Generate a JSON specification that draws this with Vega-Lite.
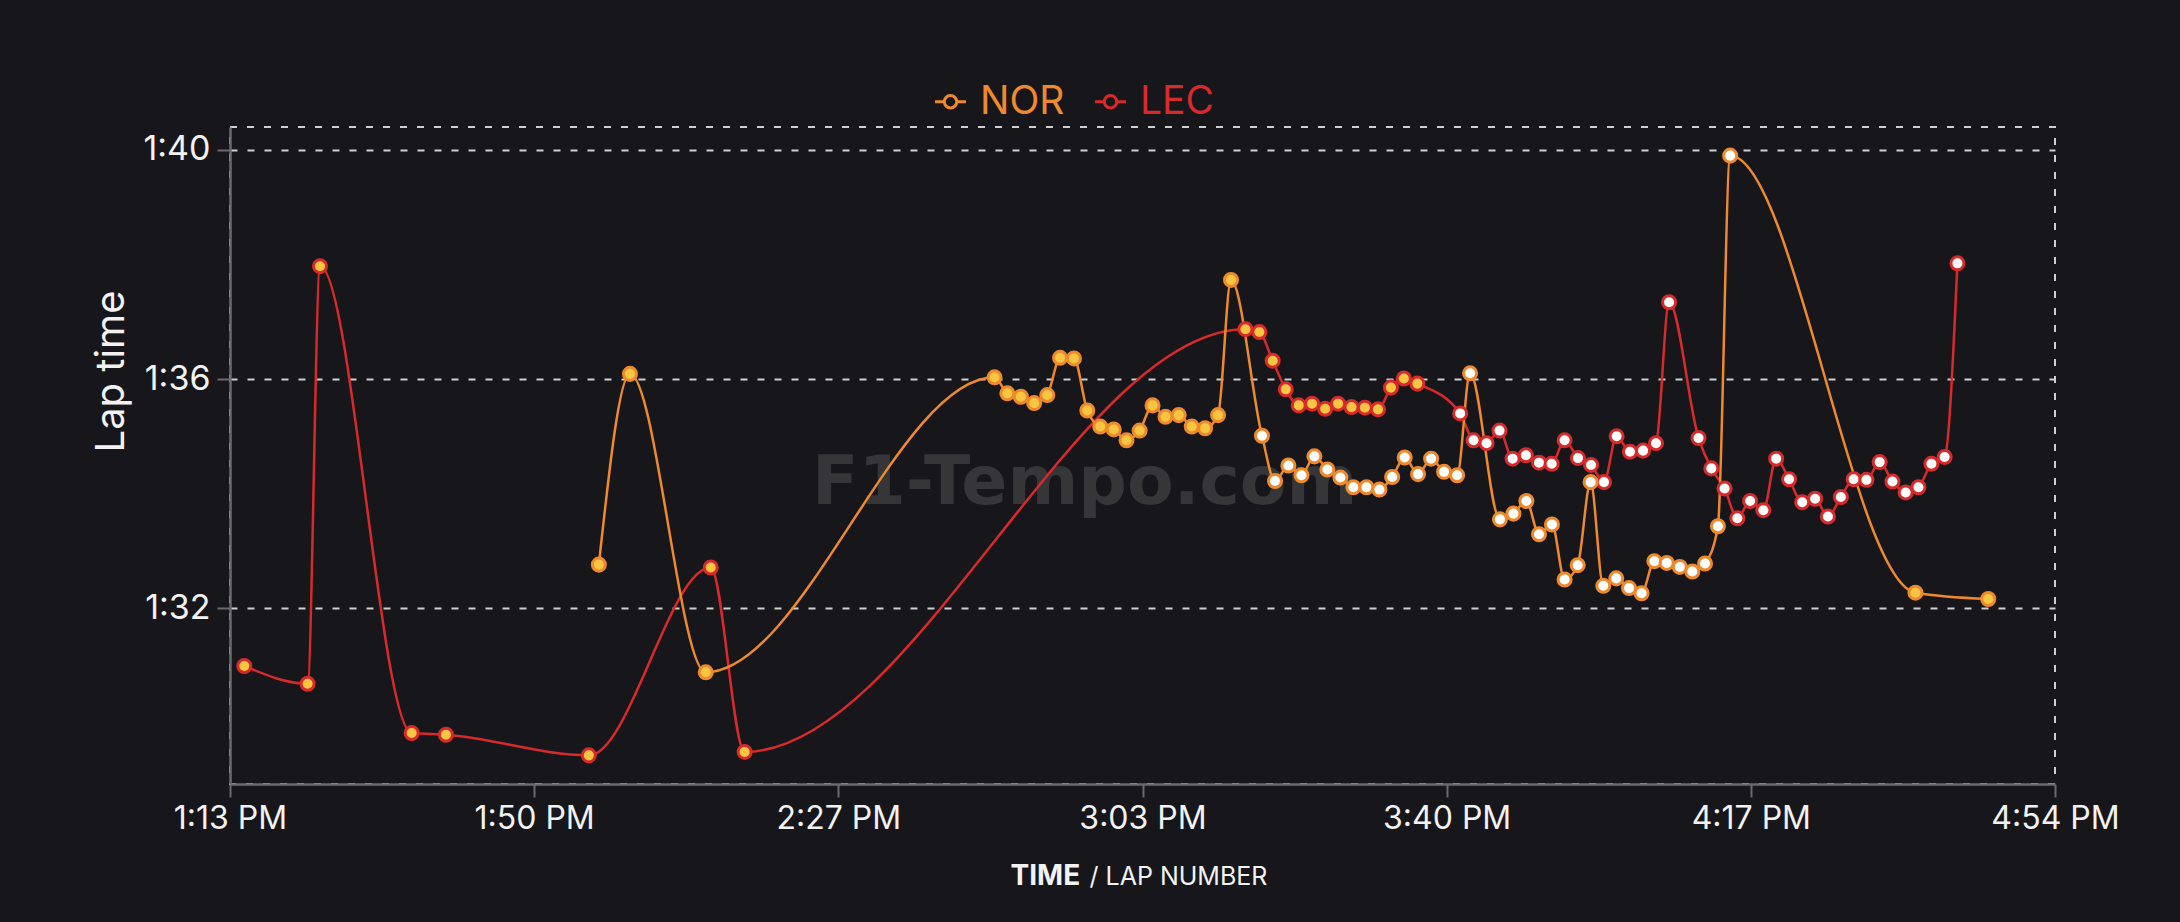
{
  "$schema": "https://vega.github.io/schema/vega-lite/v6.json",
  "width": 1825,
  "height": 657,
  "autosize": {"type": "none"},
  "padding": {"left": 230, "top": 127, "right": 125, "bottom": 138},
  "background": "#17171b",
  "config": {
    "view": {"stroke": "#cfcfcf", "strokeDash": [7, 10], "strokeWidth": 2},
    "font": "Inter",
    "axis": {
      "labelFont": "Inter", "titleFont": "Inter",
      "labelColor": "#f2f2f2", "titleColor": "#f2f2f2",
      "domainColor": "#6b6b6b", "tickColor": "#6b6b6b",
      "domainWidth": 2.5, "tickWidth": 2, "tickSize": 13
    }
  },
  "datasets": {
    "laps": [
      {"driver": "LEC", "time": "2024-01-01T13:14:44", "lap": 90.99, "compound": "MEDIUM"},
      {"driver": "LEC", "time": "2024-01-01T13:22:24", "lap": 90.68, "compound": "MEDIUM"},
      {"driver": "LEC", "time": "2024-01-01T13:23:54", "lap": 97.97, "compound": "MEDIUM"},
      {"driver": "LEC", "time": "2024-01-01T13:35:00", "lap": 89.82, "compound": "MEDIUM"},
      {"driver": "LEC", "time": "2024-01-01T13:39:09", "lap": 89.79, "compound": "MEDIUM"},
      {"driver": "LEC", "time": "2024-01-01T13:56:27", "lap": 89.43, "compound": "MEDIUM"},
      {"driver": "LEC", "time": "2024-01-01T14:11:13", "lap": 92.71, "compound": "MEDIUM"},
      {"driver": "LEC", "time": "2024-01-01T14:15:19", "lap": 89.49, "compound": "MEDIUM"},
      {"driver": "LEC", "time": "2024-01-01T15:15:58", "lap": 96.87, "compound": "MEDIUM"},
      {"driver": "LEC", "time": "2024-01-01T15:17:39", "lap": 96.82, "compound": "MEDIUM"},
      {"driver": "LEC", "time": "2024-01-01T15:19:16", "lap": 96.32, "compound": "MEDIUM"},
      {"driver": "LEC", "time": "2024-01-01T15:20:51", "lap": 95.82, "compound": "MEDIUM"},
      {"driver": "LEC", "time": "2024-01-01T15:22:25", "lap": 95.54, "compound": "MEDIUM"},
      {"driver": "LEC", "time": "2024-01-01T15:24:02", "lap": 95.57, "compound": "MEDIUM"},
      {"driver": "LEC", "time": "2024-01-01T15:25:37", "lap": 95.48, "compound": "MEDIUM"},
      {"driver": "LEC", "time": "2024-01-01T15:27:11", "lap": 95.57, "compound": "MEDIUM"},
      {"driver": "LEC", "time": "2024-01-01T15:28:49", "lap": 95.51, "compound": "MEDIUM"},
      {"driver": "LEC", "time": "2024-01-01T15:30:26", "lap": 95.50, "compound": "MEDIUM"},
      {"driver": "LEC", "time": "2024-01-01T15:32:01", "lap": 95.47, "compound": "MEDIUM"},
      {"driver": "LEC", "time": "2024-01-01T15:33:35", "lap": 95.85, "compound": "MEDIUM"},
      {"driver": "LEC", "time": "2024-01-01T15:35:09", "lap": 96.01, "compound": "MEDIUM"},
      {"driver": "LEC", "time": "2024-01-01T15:36:47", "lap": 95.92, "compound": "MEDIUM"},
      {"driver": "LEC", "time": "2024-01-01T15:41:58", "lap": 95.40, "compound": "HARD"},
      {"driver": "LEC", "time": "2024-01-01T15:43:35", "lap": 94.93, "compound": "HARD"},
      {"driver": "LEC", "time": "2024-01-01T15:45:10", "lap": 94.88, "compound": "HARD"},
      {"driver": "LEC", "time": "2024-01-01T15:46:44", "lap": 95.10, "compound": "HARD"},
      {"driver": "LEC", "time": "2024-01-01T15:48:19", "lap": 94.61, "compound": "HARD"},
      {"driver": "LEC", "time": "2024-01-01T15:49:56", "lap": 94.67, "compound": "HARD"},
      {"driver": "LEC", "time": "2024-01-01T15:51:31", "lap": 94.54, "compound": "HARD"},
      {"driver": "LEC", "time": "2024-01-01T15:53:03", "lap": 94.52, "compound": "HARD"},
      {"driver": "LEC", "time": "2024-01-01T15:54:37", "lap": 94.93, "compound": "HARD"},
      {"driver": "LEC", "time": "2024-01-01T15:56:14", "lap": 94.62, "compound": "HARD"},
      {"driver": "LEC", "time": "2024-01-01T15:57:49", "lap": 94.50, "compound": "HARD"},
      {"driver": "LEC", "time": "2024-01-01T15:59:23", "lap": 94.20, "compound": "HARD"},
      {"driver": "LEC", "time": "2024-01-01T16:00:55", "lap": 95.00, "compound": "HARD"},
      {"driver": "LEC", "time": "2024-01-01T16:02:32", "lap": 94.73, "compound": "HARD"},
      {"driver": "LEC", "time": "2024-01-01T16:04:07", "lap": 94.75, "compound": "HARD"},
      {"driver": "LEC", "time": "2024-01-01T16:05:41", "lap": 94.88, "compound": "HARD"},
      {"driver": "LEC", "time": "2024-01-01T16:07:16", "lap": 97.34, "compound": "HARD"},
      {"driver": "LEC", "time": "2024-01-01T16:10:50", "lap": 94.97, "compound": "HARD"},
      {"driver": "LEC", "time": "2024-01-01T16:12:23", "lap": 94.44, "compound": "HARD"},
      {"driver": "LEC", "time": "2024-01-01T16:13:59", "lap": 94.09, "compound": "HARD"},
      {"driver": "LEC", "time": "2024-01-01T16:15:32", "lap": 93.57, "compound": "HARD"},
      {"driver": "LEC", "time": "2024-01-01T16:17:05", "lap": 93.87, "compound": "HARD"},
      {"driver": "LEC", "time": "2024-01-01T16:18:41", "lap": 93.71, "compound": "HARD"},
      {"driver": "LEC", "time": "2024-01-01T16:20:14", "lap": 94.61, "compound": "HARD"},
      {"driver": "LEC", "time": "2024-01-01T16:21:48", "lap": 94.25, "compound": "HARD"},
      {"driver": "LEC", "time": "2024-01-01T16:23:23", "lap": 93.85, "compound": "HARD"},
      {"driver": "LEC", "time": "2024-01-01T16:24:57", "lap": 93.91, "compound": "HARD"},
      {"driver": "LEC", "time": "2024-01-01T16:26:30", "lap": 93.60, "compound": "HARD"},
      {"driver": "LEC", "time": "2024-01-01T16:28:04", "lap": 93.94, "compound": "HARD"},
      {"driver": "LEC", "time": "2024-01-01T16:29:37", "lap": 94.25, "compound": "HARD"},
      {"driver": "LEC", "time": "2024-01-01T16:31:10", "lap": 94.24, "compound": "HARD"},
      {"driver": "LEC", "time": "2024-01-01T16:32:46", "lap": 94.55, "compound": "HARD"},
      {"driver": "LEC", "time": "2024-01-01T16:34:19", "lap": 94.21, "compound": "HARD"},
      {"driver": "LEC", "time": "2024-01-01T16:35:55", "lap": 94.02, "compound": "HARD"},
      {"driver": "LEC", "time": "2024-01-01T16:37:28", "lap": 94.11, "compound": "HARD"},
      {"driver": "LEC", "time": "2024-01-01T16:39:02", "lap": 94.52, "compound": "HARD"},
      {"driver": "LEC", "time": "2024-01-01T16:40:38", "lap": 94.64, "compound": "HARD"},
      {"driver": "LEC", "time": "2024-01-01T16:42:11", "lap": 98.02, "compound": "HARD"},
      {"driver": "NOR", "time": "2024-01-01T13:57:40", "lap": 92.76, "compound": "MEDIUM"},
      {"driver": "NOR", "time": "2024-01-01T14:01:26", "lap": 96.09, "compound": "MEDIUM"},
      {"driver": "NOR", "time": "2024-01-01T14:10:37", "lap": 90.88, "compound": "MEDIUM"},
      {"driver": "NOR", "time": "2024-01-01T14:45:35", "lap": 96.03, "compound": "MEDIUM"},
      {"driver": "NOR", "time": "2024-01-01T14:47:08", "lap": 95.75, "compound": "MEDIUM"},
      {"driver": "NOR", "time": "2024-01-01T14:48:46", "lap": 95.69, "compound": "MEDIUM"},
      {"driver": "NOR", "time": "2024-01-01T14:50:23", "lap": 95.58, "compound": "MEDIUM"},
      {"driver": "NOR", "time": "2024-01-01T14:51:58", "lap": 95.72, "compound": "MEDIUM"},
      {"driver": "NOR", "time": "2024-01-01T14:53:31", "lap": 96.37, "compound": "MEDIUM"},
      {"driver": "NOR", "time": "2024-01-01T14:55:12", "lap": 96.36, "compound": "MEDIUM"},
      {"driver": "NOR", "time": "2024-01-01T14:56:49", "lap": 95.45, "compound": "MEDIUM"},
      {"driver": "NOR", "time": "2024-01-01T14:58:23", "lap": 95.17, "compound": "MEDIUM"},
      {"driver": "NOR", "time": "2024-01-01T15:00:01", "lap": 95.12, "compound": "MEDIUM"},
      {"driver": "NOR", "time": "2024-01-01T15:01:34", "lap": 94.93, "compound": "MEDIUM"},
      {"driver": "NOR", "time": "2024-01-01T15:03:09", "lap": 95.10, "compound": "MEDIUM"},
      {"driver": "NOR", "time": "2024-01-01T15:04:43", "lap": 95.54, "compound": "MEDIUM"},
      {"driver": "NOR", "time": "2024-01-01T15:06:17", "lap": 95.34, "compound": "MEDIUM"},
      {"driver": "NOR", "time": "2024-01-01T15:07:53", "lap": 95.37, "compound": "MEDIUM"},
      {"driver": "NOR", "time": "2024-01-01T15:09:28", "lap": 95.17, "compound": "MEDIUM"},
      {"driver": "NOR", "time": "2024-01-01T15:11:05", "lap": 95.14, "compound": "MEDIUM"},
      {"driver": "NOR", "time": "2024-01-01T15:12:39", "lap": 95.37, "compound": "MEDIUM"},
      {"driver": "NOR", "time": "2024-01-01T15:14:13", "lap": 97.73, "compound": "MEDIUM"},
      {"driver": "NOR", "time": "2024-01-01T15:17:58", "lap": 95.01, "compound": "HARD"},
      {"driver": "NOR", "time": "2024-01-01T15:19:33", "lap": 94.22, "compound": "HARD"},
      {"driver": "NOR", "time": "2024-01-01T15:21:10", "lap": 94.49, "compound": "HARD"},
      {"driver": "NOR", "time": "2024-01-01T15:22:45", "lap": 94.32, "compound": "HARD"},
      {"driver": "NOR", "time": "2024-01-01T15:24:19", "lap": 94.65, "compound": "HARD"},
      {"driver": "NOR", "time": "2024-01-01T15:25:53", "lap": 94.42, "compound": "HARD"},
      {"driver": "NOR", "time": "2024-01-01T15:27:28", "lap": 94.28, "compound": "HARD"},
      {"driver": "NOR", "time": "2024-01-01T15:29:02", "lap": 94.11, "compound": "HARD"},
      {"driver": "NOR", "time": "2024-01-01T15:30:37", "lap": 94.11, "compound": "HARD"},
      {"driver": "NOR", "time": "2024-01-01T15:32:11", "lap": 94.07, "compound": "HARD"},
      {"driver": "NOR", "time": "2024-01-01T15:33:44", "lap": 94.29, "compound": "HARD"},
      {"driver": "NOR", "time": "2024-01-01T15:35:15", "lap": 94.63, "compound": "HARD"},
      {"driver": "NOR", "time": "2024-01-01T15:36:52", "lap": 94.34, "compound": "HARD"},
      {"driver": "NOR", "time": "2024-01-01T15:38:27", "lap": 94.61, "compound": "HARD"},
      {"driver": "NOR", "time": "2024-01-01T15:40:01", "lap": 94.38, "compound": "HARD"},
      {"driver": "NOR", "time": "2024-01-01T15:41:36", "lap": 94.32, "compound": "HARD"},
      {"driver": "NOR", "time": "2024-01-01T15:43:10", "lap": 96.10, "compound": "HARD"},
      {"driver": "NOR", "time": "2024-01-01T15:46:47", "lap": 93.55, "compound": "HARD"},
      {"driver": "NOR", "time": "2024-01-01T15:48:25", "lap": 93.65, "compound": "HARD"},
      {"driver": "NOR", "time": "2024-01-01T15:49:59", "lap": 93.87, "compound": "HARD"},
      {"driver": "NOR", "time": "2024-01-01T15:51:31", "lap": 93.29, "compound": "HARD"},
      {"driver": "NOR", "time": "2024-01-01T15:53:05", "lap": 93.46, "compound": "HARD"},
      {"driver": "NOR", "time": "2024-01-01T15:54:37", "lap": 92.50, "compound": "HARD"},
      {"driver": "NOR", "time": "2024-01-01T15:56:12", "lap": 92.75, "compound": "HARD"},
      {"driver": "NOR", "time": "2024-01-01T15:57:46", "lap": 94.20, "compound": "HARD"},
      {"driver": "NOR", "time": "2024-01-01T15:59:18", "lap": 92.39, "compound": "HARD"},
      {"driver": "NOR", "time": "2024-01-01T16:00:52", "lap": 92.52, "compound": "HARD"},
      {"driver": "NOR", "time": "2024-01-01T16:02:25", "lap": 92.35, "compound": "HARD"},
      {"driver": "NOR", "time": "2024-01-01T16:03:56", "lap": 92.26, "compound": "HARD"},
      {"driver": "NOR", "time": "2024-01-01T16:05:29", "lap": 92.82, "compound": "HARD"},
      {"driver": "NOR", "time": "2024-01-01T16:06:59", "lap": 92.79, "compound": "HARD"},
      {"driver": "NOR", "time": "2024-01-01T16:08:34", "lap": 92.72, "compound": "HARD"},
      {"driver": "NOR", "time": "2024-01-01T16:10:05", "lap": 92.64, "compound": "HARD"},
      {"driver": "NOR", "time": "2024-01-01T16:11:37", "lap": 92.78, "compound": "HARD"},
      {"driver": "NOR", "time": "2024-01-01T16:13:11", "lap": 93.43, "compound": "HARD"},
      {"driver": "NOR", "time": "2024-01-01T16:14:40", "lap": 99.90, "compound": "HARD"},
      {"driver": "NOR", "time": "2024-01-01T16:37:06", "lap": 92.27, "compound": "MEDIUM"},
      {"driver": "NOR", "time": "2024-01-01T16:45:55", "lap": 92.16, "compound": "MEDIUM"}
    ]
  },
  "resolve": {"axis": {"x": "independent"}},
  "layer": [
    {
      "data": {"values": [{"label": "F1-Tempo.com"}]},
      "mark": {"type": "text", "font": "DejaVu Sans", "fontWeight": "bold", "fontSize": 68, "color": "#363639", "align": "center", "baseline": "alphabetic"},
      "encoding": {
        "x": {
          "datum": {"year": 2024, "month": 1, "date": 1, "hours": 14, "minutes": 56, "seconds": 30},
          "type": "temporal",
          "scale": {"domain": [{"year": 2024, "month": 1, "date": 1, "hours": 13, "minutes": 13}, {"year": 2024, "month": 1, "date": 1, "hours": 16, "minutes": 54}], "nice": false},
          "axis": {
            "orient": "bottom",
            "title": "TIME", "titleFontWeight": "bold", "titleFontSize": 28,
            "titleAlign": "left", "titleX": 780, "titleY": 100, "titleBaseline": "alphabetic",
            "values": [
              {"year": 2024, "month": 1, "date": 1, "hours": 13, "minutes": 13, "seconds": 0},
              {"year": 2024, "month": 1, "date": 1, "hours": 13, "minutes": 49, "seconds": 50},
              {"year": 2024, "month": 1, "date": 1, "hours": 14, "minutes": 26, "seconds": 40},
              {"year": 2024, "month": 1, "date": 1, "hours": 15, "minutes": 3, "seconds": 30},
              {"year": 2024, "month": 1, "date": 1, "hours": 15, "minutes": 40, "seconds": 20},
              {"year": 2024, "month": 1, "date": 1, "hours": 16, "minutes": 17, "seconds": 10},
              {"year": 2024, "month": 1, "date": 1, "hours": 16, "minutes": 54, "seconds": 0}
            ],
            "labelExpr": "timeFormat(time(datum.value) + 25000, '%-I:%M %p')",
            "labelFontSize": 32, "labelPadding": 6, "grid": false, "labelFlush": false, "labelOverlap": false
          }
        },
        "y": {
          "datum": 93.81, "type": "quantitative",
          "scale": {"domain": [88.93, 100.4], "nice": false, "zero": false},
          "axis": {
            "orient": "left", "title": "Lap time", "values": [92, 96, 100],
            "labelExpr": "floor(datum.value/60) + ':' + (datum.value % 60 < 10 ? '0' : '') + (datum.value % 60)",
            "labelFontSize": 34, "labelPadding": 7,
            "grid": true, "gridColor": "#cfcfcf", "gridDash": [7, 10], "gridWidth": 2,
            "titleFontSize": 40, "titleFontWeight": "normal", "titleAngle": -90,
            "titleX": -107, "titleY": 244, "titleAlign": "center", "titleBaseline": "alphabetic"
          }
        },
        "text": {"field": "label"}
      }
    },
    {
      "data": {"name": "laps"},
      "mark": {"type": "line", "interpolate": "monotone", "strokeWidth": 2.5},
      "encoding": {
        "x": {
          "field": "time", "type": "temporal",
          "scale": {"domain": [{"year": 2024, "month": 1, "date": 1, "hours": 13, "minutes": 13}, {"year": 2024, "month": 1, "date": 1, "hours": 16, "minutes": 54}], "nice": false},
          "axis": {
            "orient": "bottom", "title": "/ LAP NUMBER", "titleFontWeight": "normal", "titleFontSize": 25,
            "titleAlign": "left", "titleX": 859, "titleY": 100, "titleBaseline": "alphabetic",
            "labels": false, "ticks": false, "domain": false, "grid": false
          }
        },
        "y": {
          "field": "lap", "type": "quantitative",
          "scale": {"domain": [88.93, 100.4], "nice": false, "zero": false},
          "axis": {
            "orient": "left", "title": "Lap time", "values": [92, 96, 100],
            "labelExpr": "floor(datum.value/60) + ':' + (datum.value % 60 < 10 ? '0' : '') + (datum.value % 60)",
            "labelFontSize": 34, "labelPadding": 7,
            "grid": true, "gridColor": "#cfcfcf", "gridDash": [7, 10], "gridWidth": 2,
            "titleFontSize": 40, "titleFontWeight": "normal", "titleAngle": -90,
            "titleX": -107, "titleY": 244, "titleAlign": "center", "titleBaseline": "alphabetic"
          }
        },
        "color": {
          "field": "driver", "type": "nominal",
          "scale": {"domain": ["NOR", "LEC"], "range": ["#ef8a2c", "#d8292b"]},
          "legend": {
            "orient": "none", "legendX": 701, "legendY": -45, "direction": "horizontal", "title": null,
            "symbolType": "M-1,0L-0.4,0M0.4,0L1,0M0.4,0A0.4,0.4,0,1,1,-0.4,0A0.4,0.4,0,1,1,0.4,0",
            "symbolSize": 961, "symbolStrokeWidth": 3,
            "labelFontSize": 39, "labelFont": "Inter", "labelOffset": 10, "columnPadding": 24,
            "encode": {
              "symbols": {"update": {"fill": {"value": "#17171b"}, "strokeWidth": {"value": 3}}},
              "labels": {"update": {"fill": {"scale": "color", "field": "value"}}}
            }
          }
        }
      }
    },
    {
      "data": {"name": "laps"},
      "mark": {"type": "point", "shape": "circle", "filled": true, "size": 170, "strokeWidth": 3, "opacity": 1},
      "encoding": {
        "x": {
          "field": "time", "type": "temporal",
          "scale": {"domain": [{"year": 2024, "month": 1, "date": 1, "hours": 13, "minutes": 13}, {"year": 2024, "month": 1, "date": 1, "hours": 16, "minutes": 54}], "nice": false},
          "axis": null
        },
        "y": {
          "field": "lap", "type": "quantitative",
          "scale": {"domain": [88.93, 100.4], "nice": false, "zero": false},
          "axis": {
            "orient": "left", "title": "Lap time", "values": [92, 96, 100],
            "labelExpr": "floor(datum.value/60) + ':' + (datum.value % 60 < 10 ? '0' : '') + (datum.value % 60)",
            "labelFontSize": 34, "labelPadding": 7,
            "grid": true, "gridColor": "#cfcfcf", "gridDash": [7, 10], "gridWidth": 2,
            "titleFontSize": 40, "titleFontWeight": "normal", "titleAngle": -90,
            "titleX": -107, "titleY": 244, "titleAlign": "center", "titleBaseline": "alphabetic"
          }
        },
        "fill": {
          "field": "compound", "type": "nominal",
          "scale": {"domain": ["MEDIUM", "HARD"], "range": ["#f7c542", "#ffffff"]},
          "legend": null
        },
        "stroke": {
          "field": "driver", "type": "nominal",
          "scale": {"domain": ["NOR", "LEC"], "range": ["#ef8a2c", "#d8292b"]},
          "legend": null
        }
      }
    }
  ]
}
